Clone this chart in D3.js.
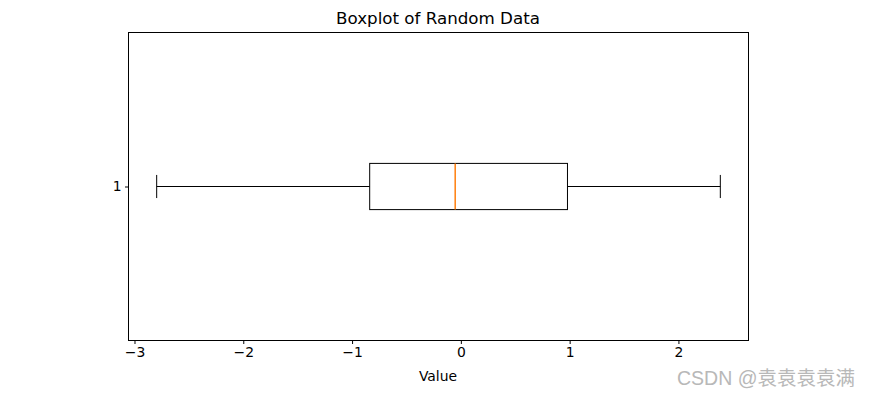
<!DOCTYPE html>
<html>
<head>
<meta charset="utf-8">
<script src="https://cdn.jsdelivr.net/npm/d3@7"></script>
<style>
  body { margin: 0; background: #fff; }
  text { font-family: "DejaVu Sans", sans-serif; }
</style>
</head>
<body>
<div id="chart"></div>
<script>
// box stats
var categories = ["1"];
var whiskerLow = [-2.796];
var q1 = [-0.838];
var median = [-0.052];
var q3 = [0.980];
var whiskerHigh = [2.385];
var xTicks = [-3, -2, -1, 0, 1, 2];

var svgWidth = 870;
var svgHeight = 397;

var margin = { top: 32, right: 122, bottom: 57, left: 128 };

var width = svgWidth - margin.left - margin.right;
var height = svgHeight - margin.top - margin.bottom;

var svg = d3.select("#chart")
  .append("svg")
  .attr("width", svgWidth)
  .attr("height", svgHeight);

var chartGroup = svg.append("g")
  .attr("transform", `translate(${margin.left + 0.5}, ${margin.top + 0.5})`);

// matplotlib style 5% padding
var lo = d3.min(whiskerLow), hi = d3.max(whiskerHigh);
var pad = (hi - lo) * 0.05;

var xScale = d3.scaleLinear()
  .domain([lo - pad, hi + pad])
  .range([0, width]);

var yScale = d3.scaleLinear()
  .domain([0.5, categories.length + 0.5])
  .range([height, 0]);

var boxHalf = 0.075;
var capHalf = 0.0375;

var stats = categories.map(function(c, i) {
  return { cat: c, pos: i + 1, lo: whiskerLow[i], q1: q1[i], med: median[i], q3: q3[i], hi: whiskerHigh[i] };
});

// axes
var bottomAxis = d3.axisBottom(xScale)
  .tickValues(xTicks)
  .tickFormat(d => d < 0 ? "\u2212" + Math.abs(d) : d)
  .tickSizeOuter(0)
  .tickSize(3.5)
  .tickPadding(3.5);

var leftAxis = d3.axisLeft(yScale)
  .tickValues(stats.map(d => d.pos))
  .tickFormat((d, i) => categories[i])
  .tickSizeOuter(0)
  .tickSize(3.5)
  .tickPadding(3.5);

var xg = chartGroup.append("g")
  .attr("transform", `translate(0, ${height})`)
  .call(bottomAxis);
var yg = chartGroup.append("g").call(leftAxis);

[xg, yg].forEach(function(g) {
  g.select(".domain").remove();
  g.selectAll("text").style("font-size", "13.9px").style("fill", "#000").style("font-family", "DejaVu Sans");
  g.selectAll("line").attr("stroke", "#000").attr("stroke-width", 1);
});

// frame
chartGroup.append("rect")
  .attr("x", 0).attr("y", 0)
  .attr("width", width).attr("height", height)
  .attr("fill", "none")
  .attr("stroke", "#000")
  .attr("stroke-width", 1);

var boxes = chartGroup.selectAll(".box")
  .data(stats)
  .enter()
  .append("g")
  .attr("class", "box");

// whiskers
boxes.append("line")
  .attr("x1", d => xScale(d.lo)).attr("x2", d => xScale(d.q1))
  .attr("y1", d => yScale(d.pos)).attr("y2", d => yScale(d.pos))
  .attr("stroke", "#000");
boxes.append("line")
  .attr("x1", d => xScale(d.q3)).attr("x2", d => xScale(d.hi))
  .attr("y1", d => yScale(d.pos)).attr("y2", d => yScale(d.pos))
  .attr("stroke", "#000");

// caps
boxes.append("line")
  .attr("x1", d => xScale(d.lo)).attr("x2", d => xScale(d.lo))
  .attr("y1", d => yScale(d.pos + capHalf)).attr("y2", d => yScale(d.pos - capHalf))
  .attr("stroke", "#000");
boxes.append("line")
  .attr("x1", d => xScale(d.hi)).attr("x2", d => xScale(d.hi))
  .attr("y1", d => yScale(d.pos + capHalf)).attr("y2", d => yScale(d.pos - capHalf))
  .attr("stroke", "#000");

// box
boxes.append("rect")
  .attr("x", d => xScale(d.q1))
  .attr("y", d => yScale(d.pos + boxHalf))
  .attr("width", d => xScale(d.q3) - xScale(d.q1))
  .attr("height", d => yScale(d.pos - boxHalf) - yScale(d.pos + boxHalf))
  .attr("fill", "none")
  .attr("stroke", "#000");

// median
boxes.append("line")
  .attr("x1", d => xScale(d.med)).attr("x2", d => xScale(d.med))
  .attr("y1", d => yScale(d.pos + boxHalf)).attr("y2", d => yScale(d.pos - boxHalf))
  .attr("stroke", "#ff7f0e")
  .attr("stroke-width", 1.5);

// title and label
svg.append("text")
  .attr("x", margin.left + width / 2)
  .attr("y", 24)
  .style("text-anchor", "middle")
  .style("font-size", "16.7px")
  .text("Boxplot of Random Data");

svg.append("text")
  .attr("x", margin.left + width / 2)
  .attr("y", 381)
  .style("text-anchor", "middle")
  .style("font-size", "13.9px")
  .text("Value");

// watermark
svg.append("text")
  .attr("x", 855)
  .attr("y", 385)
  .style("text-anchor", "end")
  .style("font-family", "'Liberation Sans', 'Noto Sans CJK SC', sans-serif")
  .style("font-size", "19.5px")
  .style("fill", "#b8b8b8")
  .text("CSDN @袁袁袁袁满");
</script>
</body>
</html>
